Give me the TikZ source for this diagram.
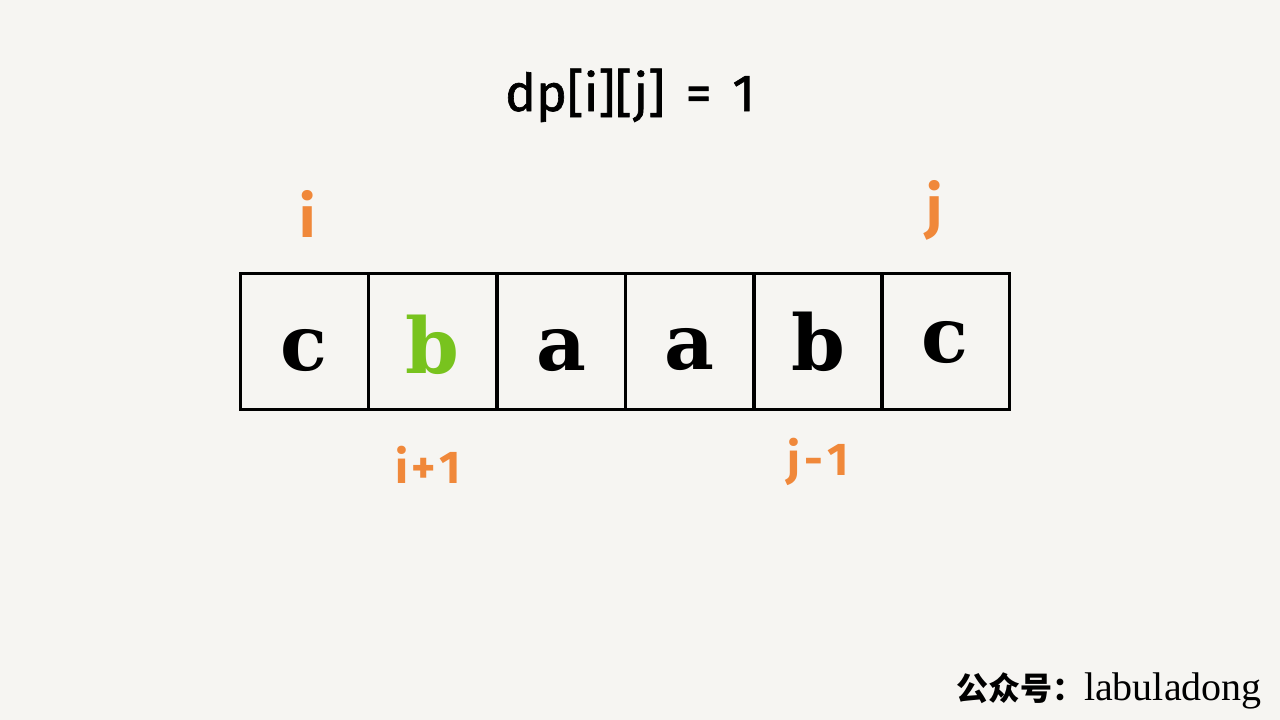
\documentclass[tikz,border=0pt]{standalone}
\usepackage{fontspec}
\setmainfont{Liberation Serif}
\newfontfamily\titlefont[FakeBold=1.2]{Fira Sans}
\newfontfamily\labelfont{Fira Sans}
\newfontfamily\letterfont{DejaVu Serif}
\newfontfamily\cjkfont{Noto Sans CJK SC}
\definecolor{bg}{HTML}{F6F5F2}
\definecolor{idxorange}{HTML}{F0883A}
\definecolor{hlgreen}{HTML}{78C31E}
\tikzset{
  cell/.style={draw=black, line width=3pt, minimum width=128pt, minimum height=136pt, inner sep=0pt},
  letter/.style={anchor=base, inner sep=0pt, font=\letterfont\bfseries\fontsize{77}{77}\selectfont},
  idxtop/.style={text=idxorange, anchor=base, font=\labelfont\bfseries\fontsize{58}{58}\selectfont, inner sep=0pt},
  idxbot/.style={text=idxorange, anchor=base, font=\labelfont\bfseries\fontsize{46}{46}\selectfont, inner sep=0pt},
}
\begin{document}
\begin{tikzpicture}[x=1pt,y=-1pt]
\fill[bg] (0,0) rectangle (1280,720);
\useasboundingbox (0,0) rectangle (1280,720);
\node[anchor=base, inner sep=0pt, font=\titlefont\fontsize{52}{52}\selectfont] (title) at (630,111) {dp[i][j]\hspace{0.4em}=\hspace{0.4em}1};
\node[cell] (c1) at (304,341) {};
\node[cell] (c2) at (432.5,341) {};
\node[cell] (c3) at (561,341) {};
\node[cell] (c4) at (689.5,341) {};
\node[cell] (c5) at (818,341) {};
\node[cell] (c6) at (945,341) {};
\node[letter] (t1) at (c1.center |- 0,370) {c};
\node[letter, text=hlgreen] (t2) at (c2.center |- 0,373) {b};
\node[letter] (t3) at (c3.center |- 0,370) {a};
\node[letter] (t4) at (c4.center |- 0,369) {a};
\node[letter] (t5) at (c5.center |- 0,370) {b};
\node[letter] (t6) at (c6.center |- 0,362) {c};
\node[idxtop] (li) at (308,237) {i};
\node[idxtop] (lj) at (935,227) {j};
\node[idxbot] (li1) at (428,483) {i\kern3pt+\kern3pt1};
\node[idxbot] (lj1) at (818,475) {j\kern4pt-\kern4pt1};
\node[anchor=base east, inner sep=0pt] (wm) at (1262,700) {{\cjkfont\bfseries\fontsize{32}{32}\selectfont 公众号：}{\fontsize{40}{40}\selectfont labuladong}};
\end{tikzpicture}
\end{document}
